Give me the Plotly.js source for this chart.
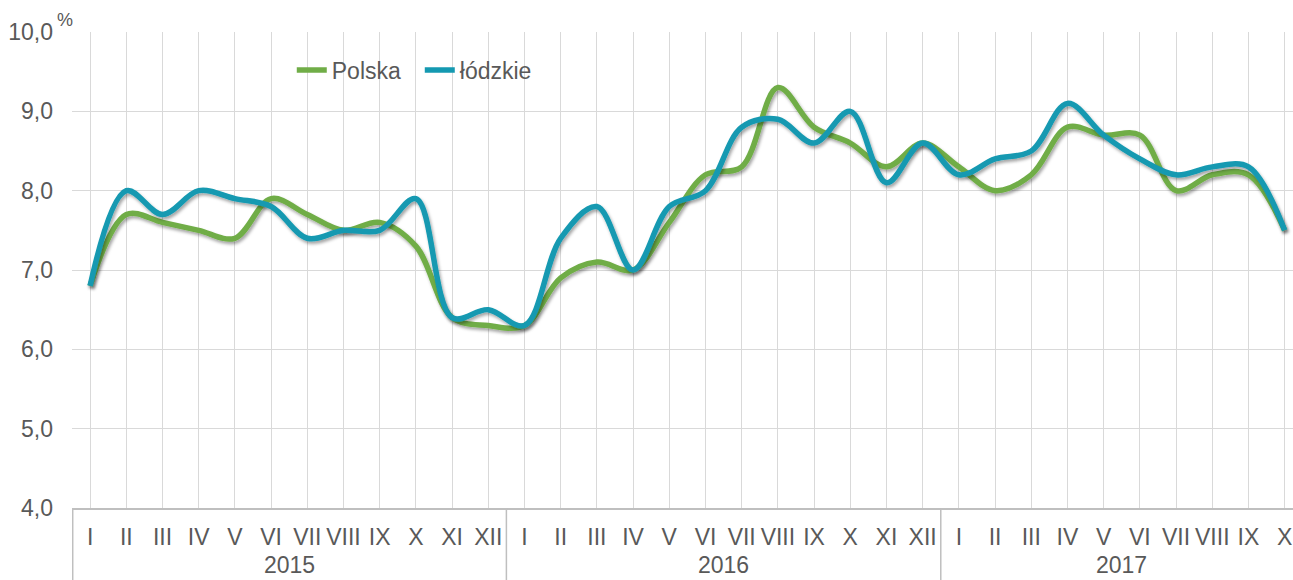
<!DOCTYPE html>
<html>
<head>
<meta charset="utf-8">
<script src="https://cdn.plot.ly/plotly-3.0.1.min.js"></script>
<style>
  html, body { margin: 0; padding: 0; background: #fff; }
  #chart { width: 1293px; height: 580px; }
</style>
</head>
<body>
<div id="chart"></div>
<script>
const years = ["2015", "2016", "2017"];
const monthsFull = ["I","II","III","IV","V","VI","VII","VIII","IX","X","XI","XII"];
const monthsPerYear = [12, 12, 10];

const polska = [
  6.8, 7.7, 7.6, 7.5, 7.4, 7.9, 7.7, 7.5, 7.6, 7.3, 6.4, 6.3,
  6.3, 6.9, 7.1, 7.0, 7.6, 8.2, 8.3, 9.3, 8.8, 8.6, 8.3, 8.6,
  8.3, 8.0, 8.2, 8.8, 8.7, 8.7, 8.0, 8.2, 8.2, 7.5
];
const lodzkie = [
  6.8, 8.0, 7.7, 8.0, 7.9, 7.8, 7.4, 7.5, 7.5, 7.9, 6.4, 6.5,
  6.3, 7.4, 7.8, 7.0, 7.8, 8.0, 8.8, 8.9, 8.6, 9.0, 8.1, 8.6,
  8.2, 8.4, 8.5, 9.1, 8.7, 8.4, 8.2, 8.3, 8.3, 7.5
];

// category positions built from the month/year lists
const monthCat = [];
const groupStart = [];
years.forEach((y, i) => {
  groupStart.push(monthCat.length);
  for (let m = 0; m < monthsPerYear[i]; m++) monthCat.push(monthsFull[m]);
});
const xIdx = monthCat.map((_, i) => i);

const FONT = "Liberation Sans, Arial, sans-serif";
const TXT = "#595959";
const AXC = "#bfbfbf";

const traces = [
  {
    x: xIdx, y: polska, name: "Polska", type: "scatter", mode: "lines",
    line: { color: "#70AD47", width: 5.5, shape: "spline", smoothing: 1 }
  },
  {
    x: xIdx, y: lodzkie, name: "łódzkie", type: "scatter", mode: "lines",
    line: { color: "#1499B1", width: 5.5, shape: "spline", smoothing: 1 }
  }
];

// year labels and group dividers, from group boundaries
const annotations = years.map((y, i) => ({
  text: y, xref: "x", yref: "paper",
  x: groupStart[i] + (monthsPerYear[i] - 1) / 2, y: -0.1513,
  xanchor: "center", yanchor: "bottom", showarrow: false,
  font: { family: FONT, size: 23, color: TXT }
}));
annotations.push({
  text: "%", xref: "paper", yref: "paper", x: -0.006, y: 1.0, xanchor: "center", yanchor: "bottom",
  showarrow: false, font: { family: FONT, size: 18, color: TXT }
});

const shapes = groupStart.map(s => ({
  type: "line", xref: "x", yref: "paper",
  x0: s - 0.5, x1: s - 0.5, y0: 0, y1: -0.16,
  line: { color: AXC, width: 1.5 }
}));
shapes[0].x0 = shapes[0].x1 = -0.48;

const layout = {
  width: 1293, height: 580,
  margin: { l: 72, r: 0, t: 32, b: 72 },
  paper_bgcolor: "#fff", plot_bgcolor: "#fff",
  separators: ", ",
  font: { family: FONT, size: 23, color: TXT },
  showlegend: true,
  legend: {
    orientation: "h", x: 0.18, y: 0.92, xanchor: "left", yanchor: "middle",
    entrywidth: 83,
    font: { family: FONT, size: 23, color: TXT }, bgcolor: "rgba(0,0,0,0)"
  },
  xaxis: {
    type: "linear",
    range: [-0.5, 33.23],
    tickmode: "array", tickvals: xIdx, ticktext: monthCat, tickangle: 0,
    showgrid: true, gridcolor: "#d9d9d9", gridwidth: 1,
    showline: true, linecolor: AXC, linewidth: 1.5,
    ticks: "", ticklabelstandoff: 8,
    tickfont: { family: FONT, size: 23, color: TXT },
    zeroline: false
  },
  yaxis: {
    range: [4, 10], dtick: 1, tick0: 4, tickformat: ".1f",
    showgrid: true, gridcolor: "#d9d9d9", gridwidth: 1,
    showline: false, zeroline: false, ticks: "",
    ticklabelstandoff: 18,
    tickfont: { family: FONT, size: 23, color: TXT }
  },
  shapes: shapes,
  annotations: annotations
};

Plotly.newPlot("chart", traces, layout, { displayModeBar: false, staticPlot: true }).then(() => {
  const svg = document.querySelector("#chart .main-svg");
  const ns = "http://www.w3.org/2000/svg";
  let defs = svg.querySelector("defs");
  if (!defs) { defs = document.createElementNS(ns, "defs"); svg.insertBefore(defs, svg.firstChild); }
  const f = document.createElementNS(ns, "filter");
  f.setAttribute("id", "lineShadow");
  f.setAttribute("x", "-10%"); f.setAttribute("y", "-30%");
  f.setAttribute("width", "120%"); f.setAttribute("height", "160%");
  f.innerHTML = '<feDropShadow dx="1.5" dy="2.5" stdDeviation="1.5" flood-color="#000" flood-opacity="0.35"/>';
  defs.appendChild(f);
  document.querySelectorAll("#chart .scatterlayer .js-line").forEach(p => p.setAttribute("filter", "url(#lineShadow)"));
});
</script>
</body>
</html>
